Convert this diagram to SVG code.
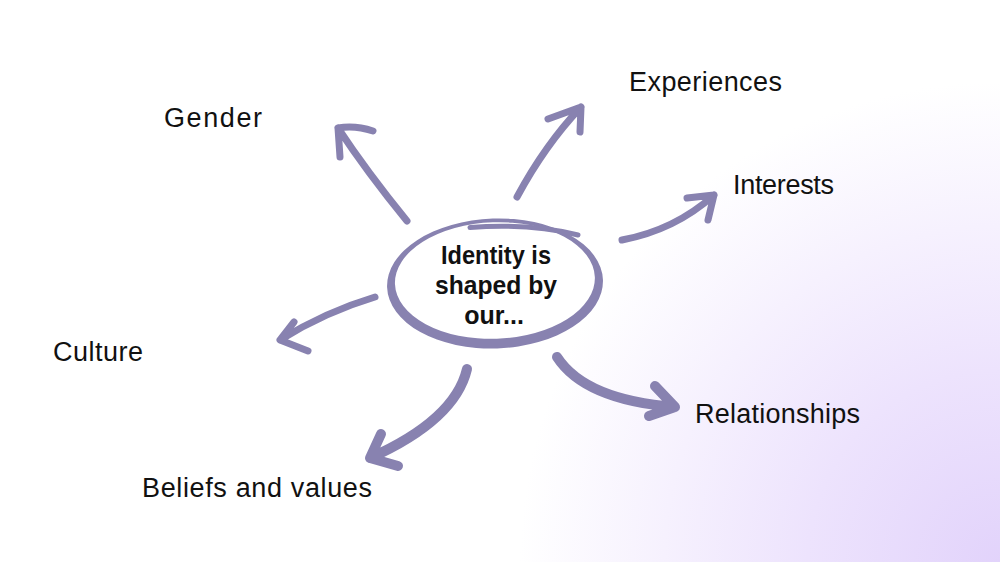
<svg xmlns="http://www.w3.org/2000/svg" width="1000" height="562" viewBox="0 0 1000 562">
<defs>
<radialGradient id="bg" cx="1000" cy="562" r="480" gradientUnits="userSpaceOnUse">
<stop offset="0" stop-color="#e2d3fb"/>
<stop offset="0.4" stop-color="#ede3fd"/>
<stop offset="1" stop-color="#ffffff"/>
</radialGradient>
<style>
.lbl{font-family:"Liberation Sans",Arial,sans-serif;font-size:27px;fill:#111;}
.ctr{font-family:"Liberation Sans",Arial,sans-serif;font-size:25px;font-weight:bold;fill:#111;text-anchor:middle;}
.ar{fill:none;stroke:#8882b0;stroke-linecap:round;stroke-linejoin:round;stroke-width:7;}
.thick{stroke-width:10;}
</style>
</defs>
<rect width="1000" height="562" fill="#ffffff"/>
<rect width="1000" height="562" fill="url(#bg)"/>
<g id="center">
<path fill="#8882b0" fill-rule="evenodd" transform="rotate(-2 495 283)" d="M387 283.5 A108 65 0 1 0 603 283.5 A108 65 0 1 0 387 283.5 Z M395 280.5 A100 58.3 0 1 1 595 280.5 A100 58.3 0 1 1 395 280.5 Z"/>
<path d="M470 227.5 Q530 223 578 235" fill="none" stroke="#8882b0" stroke-width="5" stroke-linecap="round"/>
<text class="ctr" x="496" y="264" textLength="110" lengthAdjust="spacingAndGlyphs">Identity is</text>
<text class="ctr" x="496" y="294" textLength="122" lengthAdjust="spacingAndGlyphs">shaped by</text>
<text class="ctr" x="494" y="324">our...</text>
</g>
<g id="connectors">
<path class="ar" d="M407 221 Q367 172 338 128 M373 131 Q355 125 338 128 L340 157"/>
<path class="ar" d="M517 197 Q545 145 581 107 M548 119 L581 107 L580 132"/>
<path class="ar" d="M622 240 Q675 230 714 195 M687 198 L714 195 L708 220"/>
<path class="ar" d="M375 297 Q325 312 280 340 M294 322 L280 340 L308 351"/>
<path class="ar thick" d="M467 369 Q455 420 370 458 M381 434 L370 458 L398 466"/>
<path class="ar thick" d="M557 357 Q585 400 675 407 M655 386 L675 407 L649 416"/>
</g>
<g id="gender"><text class="lbl" x="164" y="127" textLength="98">Gender</text></g>
<g id="experiences"><text class="lbl" x="629" y="91" textLength="153">Experiences</text></g>
<g id="interests"><text class="lbl" x="733" y="194" textLength="101">Interests</text></g>
<g id="culture"><text class="lbl" x="53" y="361" textLength="90">Culture</text></g>
<g id="relationships"><text class="lbl" x="695" y="423" textLength="165">Relationships</text></g>
<g id="beliefs"><text class="lbl" x="142" y="497" textLength="230">Beliefs and values</text></g>
</svg>
